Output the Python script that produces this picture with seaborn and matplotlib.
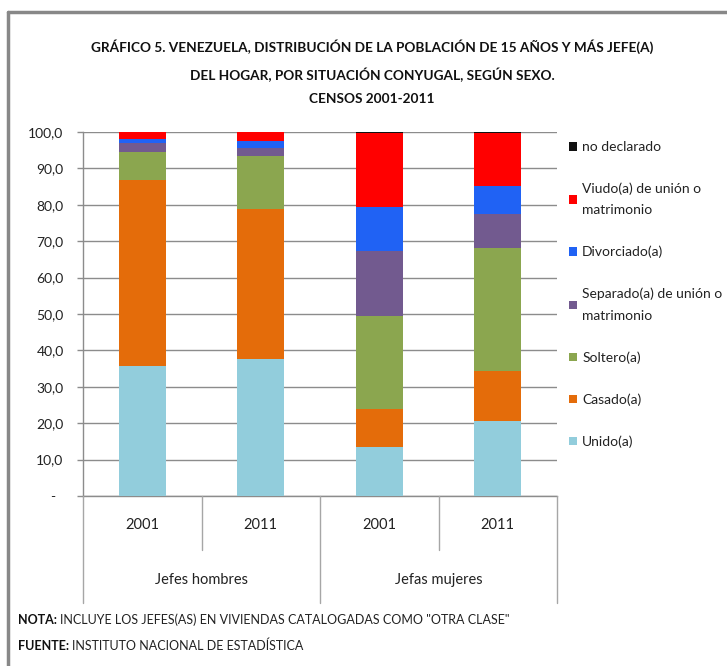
import matplotlib
matplotlib.use("Agg")
import matplotlib.pyplot as plt
import seaborn as sns
import pandas as pd
import numpy as np
from matplotlib.patches import Patch
from matplotlib.lines import Line2D

# ---------------- data ----------------
groups = ["Jefes hombres", "Jefes hombres", "Jefas mujeres", "Jefas mujeres"]
years = ["2001", "2011", "2001", "2011"]
bar_ids = ["H2001", "H2011", "M2001", "M2011"]

unido      = [35.8, 37.6, 13.4, 20.7]
casado     = [50.9, 41.2, 10.5, 13.7]
soltero    = [7.7, 14.7, 25.6, 33.8]
separado   = [2.5, 2.2, 17.8, 9.3]
divorciado = [1.2, 1.8, 12.0, 7.7]
viudo      = [1.8, 2.4, 20.4, 14.6]
no_decl    = [0.1, 0.1, 0.3, 0.2]

series_names = ["Unido(a)", "Casado(a)", "Soltero(a)",
                "Separado(a) de unión o\nmatrimonio", "Divorciado(a)",
                "Viudo(a) de unión o\nmatrimonio", "no declarado"]
series_vals = [unido, casado, soltero, separado, divorciado, viudo, no_decl]
colors = ["#92CDDC", "#E46C0A", "#8BA64F", "#725A8F", "#2062F4", "#FF0000", "#111111"]

yticks = [0, 10, 20, 30, 40, 50, 60, 70, 80, 90, 100]
ytick_labels = ["-  "] + [f"{v:.1f}".replace(".", ",") for v in yticks[1:]]

title = ("GRÁFICO 5. VENEZUELA, DISTRIBUCIÓN DE LA POBLACIÓN DE 15 AÑOS Y MÁS JEFE(A)\n"
         "DEL HOGAR, POR SITUACIÓN CONYUGAL, SEGÚN SEXO.\n"
         "CENSOS 2001-2011")

# ---------------- style ----------------
sns.set_theme(style="white")
FONT = ["Lato", "DejaVu Sans"]
plt.rcParams["font.family"] = FONT

W, H = 727, 666
fig = plt.figure(figsize=(W / 100, H / 100), dpi=100)
L, R, T, B = 83, 557, 132, 496
ax = fig.add_axes([L / W, 1 - B / H, (R - L) / W, (B - T) / H])

# cumulative stacking via overlaid seaborn bars (largest first)
cum = np.cumsum(np.array(series_vals), axis=0)
for i in range(len(series_vals) - 1, -1, -1):
    df = pd.DataFrame({"bar": bar_ids, "value": cum[i]})
    sns.barplot(data=df, x="bar", y="value", color=colors[i], saturation=1,
                width=0.4, ax=ax, linewidth=0, errorbar=None, zorder=3)

ax.set_xlim(-0.5, 3.5)
ax.set_ylim(0, 100)
ax.set_yticks(yticks)
ax.set_yticklabels(ytick_labels, fontsize=10, color="#222222")
ax.set_xticks([])
ax.set_xlabel("")
ax.set_ylabel("")
ax.grid(axis="y", color="#8C8C8C", linewidth=1.0, zorder=0)
ax.set_axisbelow(True)
for s in ["top", "right"]:
    ax.spines[s].set_visible(False)
for s in ["left", "bottom"]:
    ax.spines[s].set_color("#8C8C8C")
    ax.spines[s].set_linewidth(1.0)
ax.tick_params(axis="y", left=True, length=4, width=1, color="#8C8C8C", pad=10)

# multi-level category axis
def fy(py):
    return 1 - py / H
def fx(px):
    return px / W

cw = (R - L) / 4
for k, yr in enumerate(years):
    fig.text(fx(L + cw * (k + 0.5)), fy(525), yr, ha="center", va="center",
             fontsize=10.5, color="#222222")
fig.text(fx(L + cw * 1), fy(580), "Jefes hombres", ha="center", va="center",
         fontsize=10.5, color="#222222")
fig.text(fx(L + cw * 3), fy(580), "Jefas mujeres", ha="center", va="center",
         fontsize=10.5, color="#222222")
for k, bottom in [(0, 603), (1, 550), (2, 603), (3, 550), (4, 603)]:
    x = fx(L + cw * k)
    fig.add_artist(Line2D([x, x], [fy(B), fy(bottom)], color="#A6A6A6", linewidth=1.0))

# title
fig.text(fx(372), fy(72), title, ha="center", va="center", fontsize=9.8,
         fontweight="bold", linespacing=2.1, color="#111111")

# legend
handles = [Patch(facecolor=colors[i], edgecolor="none") for i in range(len(colors) - 1, -1, -1)]
labels = [series_names[i] for i in range(len(series_names) - 1, -1, -1)]
leg = fig.legend(handles, labels, loc="upper left", bbox_to_anchor=(fx(569), fy(141)),
                 frameon=False, fontsize=10, handlelength=0.6, handleheight=0.6,
                 handletextpad=0.35, labelspacing=2.12, borderaxespad=0, borderpad=0)
for t in leg.get_texts():
    t.set_linespacing(1.95)
    t.set_color("#222222")

# footnotes
n1 = fig.text(fx(18), fy(620), "NOTA:", ha="left", va="center", fontsize=9,
              fontweight="bold", color="#111111")
plt.annotate("INCLUYE LOS JEFES(AS) EN VIVIENDAS CATALOGADAS COMO \"OTRA CLASE\"",
             xy=(1, 0.5), xycoords=n1, xytext=(2, 0), textcoords="offset points",
             ha="left", va="center", fontsize=9,
             color="#222222", annotation_clip=False)
n2 = fig.text(fx(18), fy(646), "FUENTE:", ha="left", va="center", fontsize=9,
              fontweight="bold", color="#111111")
plt.annotate("INSTITUTO NACIONAL DE ESTADÍSTICA", xy=(1, 0.5), xycoords=n2,
             xytext=(2, 0), textcoords="offset points",
             ha="left", va="center", fontsize=9, color="#222222", annotation_clip=False)

# outer frame (top and left edges visible)
fig.add_artist(Line2D([fx(8), 1], [fy(12), fy(12)], color="#888888", linewidth=2.5))
fig.add_artist(Line2D([fx(8), fx(8)], [fy(12), 0], color="#888888", linewidth=2.5))

fig.savefig("out.png", dpi=100)
